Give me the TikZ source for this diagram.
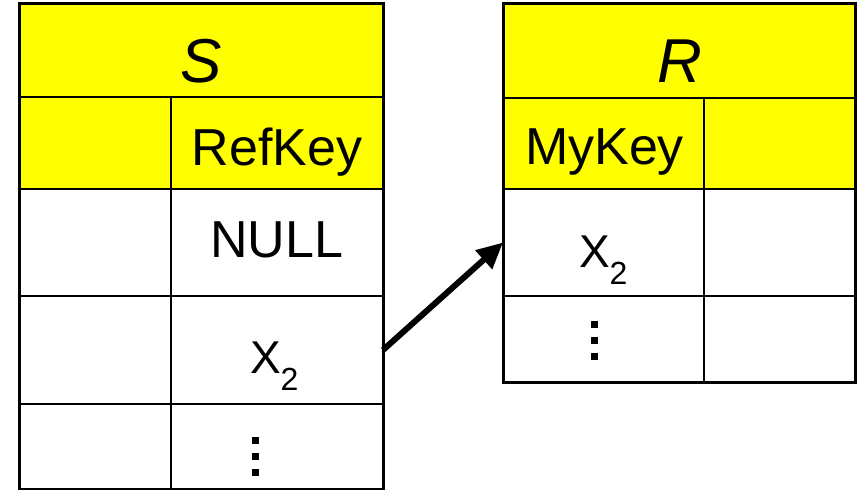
\documentclass[tikz,border=0pt]{standalone}
\usepackage{fontspec}
\setmainfont{Liberation Sans}
\usetikzlibrary{arrows.meta}
\definecolor{hdr}{HTML}{FFFF00}
\tikzset{
  cell/.style={draw=black, line width=1.3pt, inner sep=0pt, outer sep=0pt, rectangle},
  hcell/.style={cell, fill=hdr},
  txt/.style={inner sep=0pt, outer sep=0pt, anchor=base, font=\fontsize{52}{60}\selectfont},
  ttl/.style={inner sep=0pt, outer sep=0pt, anchor=base, font=\fontsize{62}{70}\selectfont\itshape},
  outer/.style={draw=black, line width=3pt},
  dotsq/.style={fill=black, minimum size=7pt, inner sep=0pt, outer sep=0pt, rectangle},
}
\newcommand{\xtwo}{\fontsize{46}{52}\selectfont X\raisebox{-17pt}{\fontsize{32}{34}\selectfont 2}}
\begin{document}
\begin{tikzpicture}[x=1pt,y=-1pt]
\useasboundingbox (0,0) rectangle (860,490);
% ---- table S ----
\node[hcell, minimum width=364pt, minimum height=94pt] (stitle) at (201,50) {};
\node[hcell, minimum width=152pt, minimum height=92pt] (sh1) at (95,143) {};
\node[hcell, minimum width=212pt, minimum height=92pt] (sh2) at (277,143) {};
\node[cell, minimum width=152pt, minimum height=107pt] (s11) at (95,242.5) {};
\node[cell, minimum width=212pt, minimum height=107pt] (s12) at (277,242.5) {};
\node[cell, minimum width=152pt, minimum height=108pt] (s21) at (95,350) {};
\node[cell, minimum width=212pt, minimum height=108pt] (s22) at (277,350) {};
\node[cell, minimum width=152pt, minimum height=85pt] (s31) at (95,446.5) {};
\node[cell, minimum width=212pt, minimum height=85pt] (s32) at (277,446.5) {};
\draw[line width=2.2pt] (sh1.south west) -- (sh2.south east);
\draw[line width=2pt] (s11.south west) -- (s12.south east);
\draw[line width=2pt] (s21.south west) -- (s22.south east);
\draw[outer] (stitle.north west) rectangle (s32.south east);
\node[ttl] (sname) at (201,82) {S};
\node[txt] (refkey) at (277,165) {RefKey};
\node[txt] (null) at (276.5,257) {NULL};
\node[inner sep=0pt, outer sep=0pt, anchor=base west] (sx2) at (250,373) {\xtwo};
\node[dotsq] (sd1) at (255.5,440.5) {};
\node[dotsq] (sd2) at (255.5,456.5) {};
\node[dotsq] (sd3) at (255.5,472.5) {};
% ---- table R ----
\node[hcell, minimum width=352pt, minimum height=95pt] (rtitle) at (679,50.5) {};
\node[hcell, minimum width=201pt, minimum height=91pt] (rh1) at (603.5,143.5) {};
\node[hcell, minimum width=151pt, minimum height=91pt] (rh2) at (779.5,143.5) {};
\node[cell, minimum width=201pt, minimum height=107pt] (r11) at (603.5,242.5) {};
\node[cell, minimum width=151pt, minimum height=107pt] (r12) at (779.5,242.5) {};
\node[cell, minimum width=201pt, minimum height=86pt] (r21) at (603.5,339) {};
\node[cell, minimum width=151pt, minimum height=86pt] (r22) at (779.5,339) {};
\draw[line width=2.2pt] (rh1.south west) -- (rh2.south east);
\draw[outer] (rtitle.north west) rectangle (r22.south east);
\node[ttl] (rname) at (680,82) {R};
\node[txt] (mykey) at (604.5,164) {MyKey};
\node[inner sep=0pt, outer sep=0pt, anchor=base west] (rx2) at (579,267) {\xtwo};
\node[dotsq] (rd1) at (594,324.5) {};
\node[dotsq] (rd2) at (594,340.5) {};
\node[dotsq] (rd3) at (594,356.5) {};
% ---- arrow ----
\draw[line width=6pt, -{Triangle[length=26pt,width=24pt]}] (s22.east) -- (r11.west);
\end{tikzpicture}
\end{document}
